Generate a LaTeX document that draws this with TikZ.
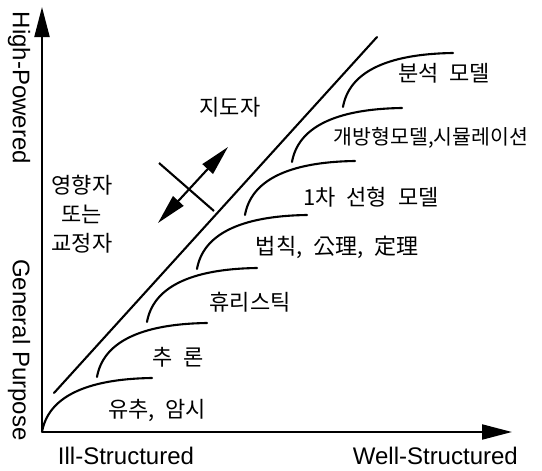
\documentclass[tikz,border=0pt]{standalone}
\usepackage{fontspec}
\setmainfont{Liberation Sans}
\newfontfamily\kr[WordSpace=2.2]{Noto Sans CJK KR}
\usetikzlibrary{arrows.meta}
\begin{document}
\begin{tikzpicture}[x=1pt,y=-1pt,
  ln/.style={line width=2.1pt},
  axisarrow/.style={ln,-{Triangle[length=30pt,width=15pt]}},
  latin/.style={font=\fontsize{24}{28}\selectfont,inner sep=0pt},
  krlab/.style={font=\kr\fontsize{22}{26}\selectfont,inner sep=0pt},
  level/.style={ln,line cap=round}]
\useasboundingbox (0,0) rectangle (542,471);
% axes
\coordinate (O) at (42,432);
\coordinate (ytop) at (42,7);
\coordinate (xend) at (512,432);
\draw[axisarrow] (O) -- (ytop);
\draw[axisarrow] (O) -- (xend);
% axis labels
\node[latin,rotate=-90] (hp) at (19,88) {High-Powered};
\node[latin,rotate=-90] (gp) at (19,350) {General Purpose};
\node[latin] (ill) at (126,456) {Ill-Structured};
\node[latin,anchor=east] (well) at (518,456) {Well-Structured};
% diagonal
\coordinate (d1) at (54,393);
\coordinate (d2) at (377,37);
\draw[level] (d1) -- (d2);
% curves
\foreach \x/\y in {42/432, 97/377, 147/322, 197/269, 245/215, 292/162, 343/107}{
  \draw[level] (\x,\y) .. controls (\x+6,\y-34) and (\x+42,\y-53) .. (\x+110,\y-54);
}
% level labels
\node[krlab] (l1) at (157,410) {유추, 암시};
\node[krlab] (l2) at (178,357) {추 론};
\node[krlab] (l3) at (250,302) {휴리스틱};
\node[krlab] (l4) at (337,247) {법칙, 公理, 定理};
\node[krlab] (l5) at (371,197) {1차 선형 모델};
\node[krlab,font=\kr\fontsize{20.5}{24}\selectfont] (l6) at (431,138) {개방형모델,시뮬레이션};
\node[krlab] (l7) at (444,73) {분석 모델};
% roles
\node[krlab] (ji) at (230,107) {지도자};
\node[krlab,align=center,font=\kr\fontsize{22}{29}\selectfont] (yh) at (82,214) {영향자\\또는\\교정자};
% double arrow and cross line
\coordinate (a1) at (158,223);
\coordinate (a2) at (228,147);
\coordinate (c1) at (159,163);
\coordinate (c2) at (214,211);
\draw[ln,{Triangle[length=30pt,width=14pt]}-{Triangle[length=30pt,width=14pt]}] (a1) -- (a2);
\draw[ln] (c1) -- (c2);
\end{tikzpicture}
\end{document}
